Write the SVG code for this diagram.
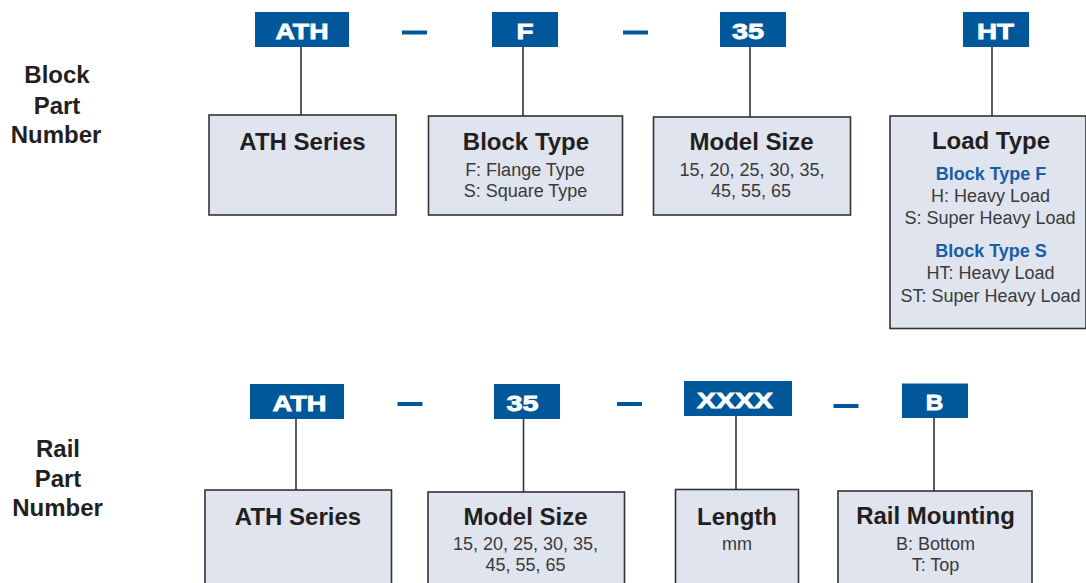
<svg xmlns="http://www.w3.org/2000/svg" width="1086" height="583" viewBox="0 0 1086 583">
<style>
.tag{fill:#00579a}
.tagt{fill:#fff;stroke:#fff;stroke-width:0.8;font-family:"Liberation Sans",Arial,sans-serif;font-weight:bold;font-size:22px;text-anchor:middle}
.dash{fill:#00579a}
.box{fill:#dfe4ef;stroke:#333;stroke-width:1.6}
.title{fill:#231f20;font-family:"Liberation Sans",Arial,sans-serif;font-weight:bold;font-size:24px;text-anchor:middle}
.sub{fill:#3a3a3a;font-family:"Liberation Sans",Arial,sans-serif;font-size:18px;text-anchor:middle}
.bsub{fill:#1a5da3;font-family:"Liberation Sans",Arial,sans-serif;font-weight:bold;font-size:18px;text-anchor:middle}
.lbl{fill:#231f20;font-family:"Liberation Sans",Arial,sans-serif;font-weight:bold;font-size:24px;text-anchor:middle}
.conn{stroke:#333;stroke-width:1.6;fill:none}
</style>
<rect width="1086" height="583" fill="#fff"/>
<g id="labels">
<text class="lbl" x="57" y="83">Block</text>
<text class="lbl" x="57" y="114">Part</text>
<text class="lbl" x="56" y="143">Number</text>
<text class="lbl" x="58" y="457">Rail</text>
<text class="lbl" x="58" y="487">Part</text>
<text class="lbl" x="57.5" y="516">Number</text>
</g>
<g id="connectors">
<line class="conn" x1="301" y1="47" x2="301" y2="115"/>
<line class="conn" x1="523" y1="47" x2="523" y2="116"/>
<line class="conn" x1="750" y1="47" x2="750" y2="117"/>
<line class="conn" x1="992" y1="47" x2="992" y2="116"/>
<line class="conn" x1="296" y1="419" x2="296" y2="490"/>
<line class="conn" x1="523.5" y1="419" x2="523.5" y2="492"/>
<line class="conn" x1="736" y1="416" x2="736" y2="489"/>
<line class="conn" x1="934" y1="418" x2="934" y2="491"/>
</g>
<g id="dashes">
<rect class="dash" x="402" y="30.5" width="25" height="4"/>
<rect class="dash" x="623" y="30.5" width="25" height="4"/>
<rect class="dash" x="397.5" y="402" width="25" height="4"/>
<rect class="dash" x="617" y="402" width="25" height="4"/>
<rect class="dash" x="833.5" y="404" width="25" height="4"/>
</g>
<g id="tag-ath-block">
<rect class="tag" x="255" y="12" width="94" height="35"/>
<text class="tagt" x="302" y="38.5" textLength="53" lengthAdjust="spacingAndGlyphs">ATH</text>
</g>
<g id="tag-f">
<rect class="tag" x="492" y="12" width="66" height="35"/>
<text class="tagt" x="525" y="38.5" textLength="17" lengthAdjust="spacingAndGlyphs">F</text>
</g>
<g id="tag-35-block">
<rect class="tag" x="720" y="12" width="66" height="35"/>
<text class="tagt" x="748" y="39" textLength="32" lengthAdjust="spacingAndGlyphs">35</text>
</g>
<g id="tag-ht">
<rect class="tag" x="963" y="12" width="66" height="35"/>
<text class="tagt" x="995.5" y="39" textLength="37" lengthAdjust="spacingAndGlyphs">HT</text>
</g>
<g id="box-ath-series-block">
<rect class="box" x="209" y="115" width="187" height="100"/>
<text class="title" x="302.5" y="150">ATH Series</text>
</g>
<g id="box-block-type">
<rect class="box" x="428.5" y="116" width="194" height="99"/>
<text class="title" x="526" y="150">Block Type</text>
<text class="sub" x="525" y="176">F: Flange Type</text>
<text class="sub" x="525.5" y="197">S: Square Type</text>
</g>
<g id="box-model-size-block">
<rect class="box" x="653.5" y="117" width="197" height="98"/>
<text class="title" x="751.5" y="150">Model Size</text>
<text class="sub" x="752" y="176">15, 20, 25, 30, 35,</text>
<text class="sub" x="751" y="197">45, 55, 65</text>
</g>
<g id="box-load-type">
<rect class="box" x="890" y="116" width="196" height="212.5"/>
<text class="title" x="991" y="149">Load Type</text>
<text class="bsub" x="991" y="180">Block Type F</text>
<text class="sub" x="990.5" y="202">H: Heavy Load</text>
<text class="sub" x="990" y="224">S: Super Heavy Load</text>
<text class="bsub" x="991" y="257">Block Type S</text>
<text class="sub" x="990.5" y="279">HT: Heavy Load</text>
<text class="sub" x="990.5" y="301.5">ST: Super Heavy Load</text>
</g>
<g id="tag-ath-rail">
<rect class="tag" x="250" y="384" width="94" height="35"/>
<text class="tagt" x="299.5" y="410.5" textLength="54" lengthAdjust="spacingAndGlyphs">ATH</text>
</g>
<g id="tag-35-rail">
<rect class="tag" x="494" y="384" width="66" height="35"/>
<text class="tagt" x="522.5" y="410.5" textLength="32" lengthAdjust="spacingAndGlyphs">35</text>
</g>
<g id="tag-xxxx">
<rect class="tag" x="684" y="381" width="108" height="35"/>
<text class="tagt" x="735" y="407.5" textLength="76" lengthAdjust="spacingAndGlyphs">XXXX</text>
</g>
<g id="tag-b">
<rect class="tag" x="902" y="383.5" width="66" height="34.5"/>
<text class="tagt" x="934.5" y="409.5" textLength="17.5" lengthAdjust="spacingAndGlyphs">B</text>
</g>
<g id="box-ath-series-rail">
<rect class="box" x="205" y="490" width="186.5" height="110"/>
<text class="title" x="298" y="525">ATH Series</text>
</g>
<g id="box-model-size-rail">
<rect class="box" x="428" y="492" width="196.5" height="110"/>
<text class="title" x="525.5" y="525">Model Size</text>
<text class="sub" x="525.5" y="550">15, 20, 25, 30, 35,</text>
<text class="sub" x="525.5" y="571">45, 55, 65</text>
</g>
<g id="box-length">
<rect class="box" x="675.5" y="489.5" width="123" height="110"/>
<text class="title" x="737" y="525">Length</text>
<text class="sub" x="737" y="550">mm</text>
</g>
<g id="box-rail-mounting">
<rect class="box" x="838" y="491" width="194" height="110"/>
<text class="title" x="935.5" y="524">Rail Mounting</text>
<text class="sub" x="935.5" y="549.5">B: Bottom</text>
<text class="sub" x="935.5" y="571">T: Top</text>
</g>
</svg>
